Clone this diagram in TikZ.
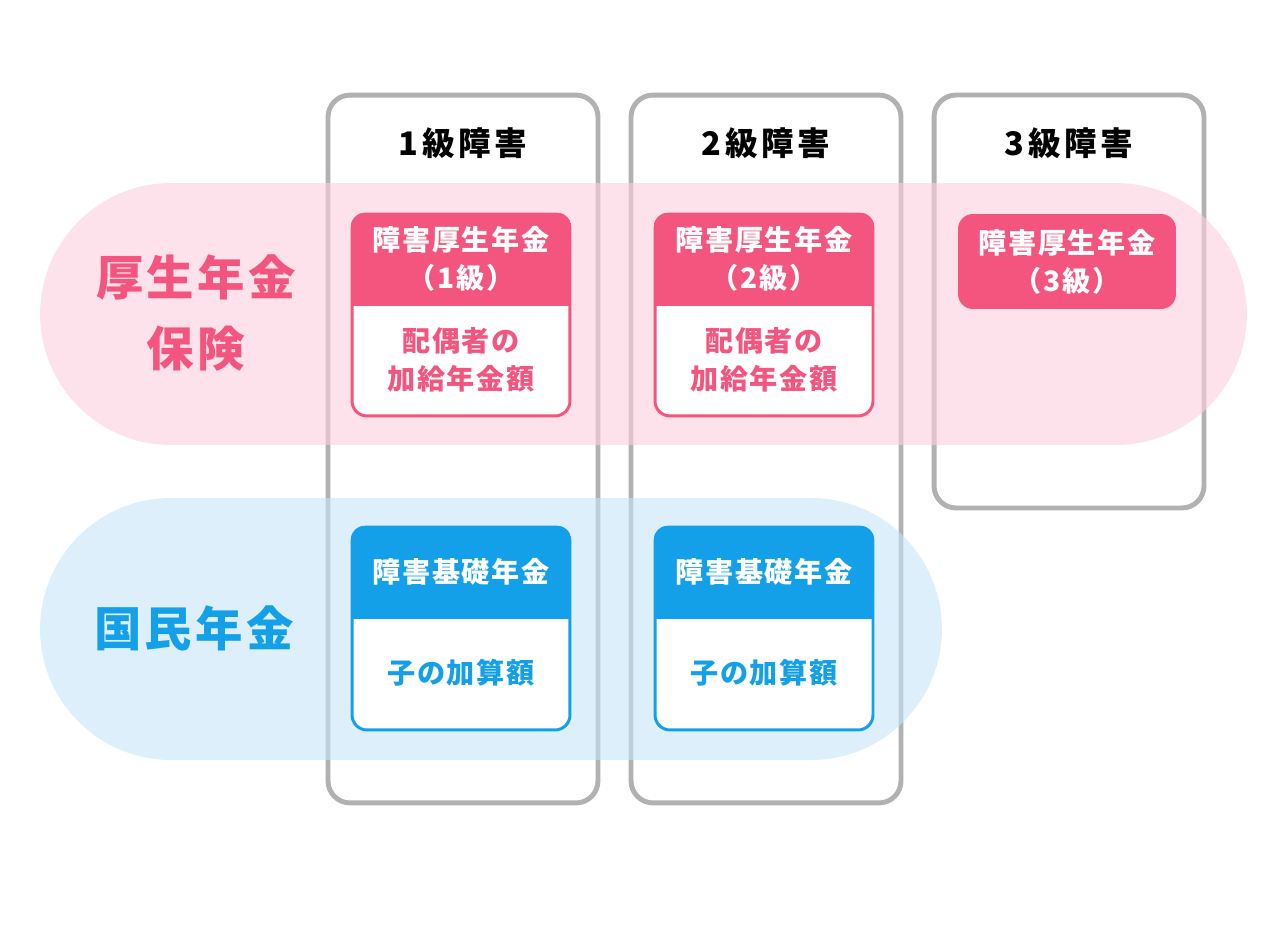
\documentclass[tikz,border=0pt]{standalone}
\usepackage{fontspec}
\setmainfont{Noto Sans CJK JP}
\usepackage{tikz}
\usetikzlibrary{positioning}
\usepackage{color}

\definecolor{pk}{HTML}{F4557F}
\definecolor{pkband}{HTML}{FCCFDF}
\definecolor{bl}{HTML}{13A0E8}
\definecolor{blband}{HTML}{C5E4F8}
\definecolor{colgray}{HTML}{B1B1B1}

\begin{document}
\begin{tikzpicture}[
        x=0.02cm, y=-0.02cm,
        column/.style={draw=colgray, line width=2.8pt, rounded corners=0.44cm, minimum width=5.4cm, inner sep=0pt},
        band/.style={rounded corners=2.62cm, minimum height=5.24cm, fill opacity=0.6, inner sep=0pt},
        grade/.style={font=\fontsize{18.5}{22}\selectfont\bfseries\addfontfeature{LetterSpace=12}},
        side/.style={font=\fontsize{27}{40}\selectfont\bfseries\addfontfeature{LetterSpace=7}, align=center},
        box/.style={line width=1.7pt, fill=white, rounded corners=0.3cm, minimum width=4.36cm, inner sep=0pt},
        boxtext/.style={font=\fontsize{16}{21.6}\selectfont\bfseries\addfontfeature{LetterSpace=6}, align=center}
    ]
        \useasboundingbox (0,0) rectangle (1280,925);

        % Columns
        \node[column, minimum height=14.16cm] (C1) at (463,449) {};
        \node[column, minimum height=14.16cm] (C2) at (766,449) {};
        \node[column, minimum height=8.26cm] (C3) at (1069,301.5) {};
        \node[grade] (G1) at (463,143) {1級障害};
        \node[grade] (G2) at (766,143) {2級障害};
        \node[grade] (G3) at (1069,143) {3級障害};

        % Bands
        \node[band, fill=pkband, minimum width=24.14cm] (KB) at (643.5,314) {};
        \node[band, fill=blband, minimum width=18.04cm] (NB) at (491,629) {};
        \node[side, text=pk] (KL) at (196,313) {厚生年金\\保険};
        \node[side, text=bl] (NL) at (194,628) {国民年金};

        % Boxes
        \foreach \i/\x in {1/461, 2/764} {
            \node[box, draw=pk, minimum height=4.04cm] (P\i) at (\x,315) {};
            \begin{scope}
                \clip[rounded corners=0.3cm] (P\i.north west) rectangle (P\i.south east);
                \fill[pk] (P\i.north west) rectangle ([yshift=-1.86cm]P\i.north east);
            \end{scope}
            \node[boxtext, text=white] (PH\i) at ([yshift=-0.93cm]P\i.north) {障害厚生年金\\（\i 級）};
            \node[boxtext, text=pk] (PL\i) at ([yshift=-2.95cm]P\i.north) {配偶者の\\加給年金額};

            \node[box, draw=bl, minimum height=4.06cm] (B\i) at (\x,628.5) {};
            \begin{scope}
                \clip[rounded corners=0.3cm] (B\i.north west) rectangle (B\i.south east);
                \fill[bl] (B\i.north west) rectangle ([yshift=-1.86cm]B\i.north east);
            \end{scope}
            \node[boxtext, text=white] (BH\i) at ([yshift=-0.93cm]B\i.north) {障害基礎年金};
            \node[boxtext, text=bl] (BL\i) at ([yshift=-2.95cm]B\i.north) {子の加算額};
        }
        \node[box, fill=pk, minimum height=1.9cm, text=white, boxtext] (P3) at (1067,261.5) {障害厚生年金\\（3級）};
    \end{tikzpicture}
\end{document}
